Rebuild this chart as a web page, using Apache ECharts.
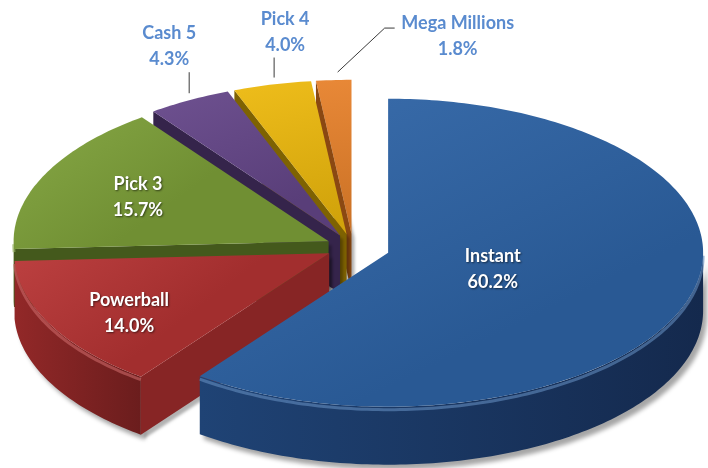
<!DOCTYPE html>
<html>
<head>
<meta charset="utf-8">
<script src="https://cdn.jsdelivr.net/npm/echarts@6/dist/echarts.min.js"></script>
<style>
  html, body { margin: 0; padding: 0; background: #fff; }
  #chart { width: 708px; height: 468px; }
</style>
</head>
<body>
<div id="chart"></div>
<script>
const games = ["Instant", "Powerball", "Pick 3", "Cash 5", "Pick 4", "Mega Millions"];
const shares = [60.2, 14.0, 15.7, 4.3, 4.0, 1.8];

const topColors = ["#2F65A8", "#B83434", "#7FA23A", "#654689", "#EDB90C", "#E6802A"];
const sideColors = ["#17305A", "#7E2222", "#3A4C17", "#2D1E40", "#6A5300", "#7A3E0E"];

// pie geometry (px)
const cx = 353, cy = 247, rx = 315, ry = 154, depth = 58;
const explode = [37, 27, 27, 27, 27, 27];

// label placement: inside ones by radius fraction, outside ones with leader line
const labelPlace = [
  { r: 0.35 },
  { r: 0.72, dy: 8 },
  { r: 0.67 },
  { line: [[0, -7], [0, -28]], text: [-20, -54] },
  { line: [[2, -7], [2, -27]], text: [13, -52] },
  { line: [[4, -8], [51, -52], [61, -52]], text: [124, -44] }
];

const total = shares.reduce((a, b) => a + b, 0);

function sliceGeom(i) {
  let cum = 0;
  for (let k = 0; k < i; k++) cum += shares[k];
  const hi = 90 - cum / total * 360;
  const lo = 90 - (cum + shares[i]) / total * 360;
  const mid = (hi + lo) / 2;
  const m = mid * Math.PI / 180;
  return {
    hi, lo, mid,
    ox: cx + explode[i] * Math.cos(m),
    oy: cy - explode[i] * (ry / rx) * Math.sin(m)
  };
}

function pt(g, deg, r, dz) {
  const a = deg * Math.PI / 180;
  return [g.ox + rx * r * Math.cos(a), g.oy - ry * r * Math.sin(a) + (dz || 0)];
}

function arc(g, a0, a1, dz) {
  const n = Math.max(2, Math.ceil(Math.abs(a1 - a0)));
  const pts = [];
  for (let k = 0; k <= n; k++) pts.push(pt(g, a0 + (a1 - a0) * k / n, 1, dz));
  return pts;
}

function mix(c1, c2, t) {
  const a = parseInt(c1.slice(1), 16), b = parseInt(c2.slice(1), 16);
  const ch = s => Math.round(((a >> s) & 255) * (1 - t) + ((b >> s) & 255) * t);
  return "rgb(" + ch(16) + "," + ch(8) + "," + ch(0) + ")";
}

function renderSides(params, api) {
  const i = params.dataIndex;
  const g = sliceGeom(i);
  const base = (shares.length - i) * 10;
  const children = [];
  const top = topColors[i], side = sideColors[i];

  // front half of the outer wall
  for (let k = -2; k <= 1; k++) {
    const a = Math.max(g.lo, -180 + 360 * k);
    const b = Math.min(g.hi, 360 * k);
    if (b - a <= 0.01) continue;
    const pts = arc(g, b, a, 0).concat(arc(g, a, b, depth));
    children.push({
      type: "polygon", z2: base,
      shape: { points: pts },
      style: {
        fill: {
          type: "linear", x: 0, y: 0, x2: 1, y2: 0,
          colorStops: [
            { offset: 0, color: mix(side, top, 0.35) },
            { offset: 1, color: mix(side, "#000000", 0.15) }
          ]
        },
        shadowColor: "rgba(0,0,0,0.35)", shadowBlur: 4, shadowOffsetX: 4, shadowOffsetY: 5
      }
    });
    children.push({
      type: "polyline", z2: base + 2,
      shape: { points: arc(g, b, a, 3) },
      style: { stroke: mix(top, "#ffffff", 0.25), lineWidth: 3, opacity: 0.6, fill: null }
    });
  }

  // radial walls facing the viewer
  const walls = [];
  if (Math.cos(g.hi * Math.PI / 180) < -0.01) walls.push(g.hi);
  if (Math.cos(g.lo * Math.PI / 180) > 0.01) walls.push(g.lo);
  walls.forEach(ang => {
    const c = [g.ox, g.oy], e = pt(g, ang, 1, 0);
    children.push({
      type: "polygon", z2: base + 1,
      shape: { points: [c, e, [e[0], e[1] + depth], [c[0], c[1] + depth]] },
      style: { fill: mix(side, top, 0.15), shadowColor: "rgba(0,0,0,0.3)", shadowBlur: 3, shadowOffsetX: 3, shadowOffsetY: 4 }
    });
  });

  return { type: "group", children };
}

function renderTops(params, api) {
  const i = params.dataIndex;
  const g = sliceGeom(i);
  const top = topColors[i];
  const children = [];

  children.push({
    type: "polygon", z2: 10,
    shape: { points: [[g.ox, g.oy]].concat(arc(g, g.hi, g.lo, 0)) },
    style: {
      fill: {
        type: "linear", x: 0, y: 0, x2: 0.3, y2: 1,
        colorStops: [
          { offset: 0, color: mix(top, "#ffffff", 0.06) },
          { offset: 1, color: mix(top, "#000000", 0.12) }
        ]
      }
    }
  });

  const lp = labelPlace[i];
  const txt = games[i] + "\n" + shares[i].toFixed(1) + "%";
  if (lp.r !== undefined) {
    const p = pt(g, g.mid, lp.r, lp.dy || 0);
    children.push({
      type: "text", z2: 100,
      style: {
        text: txt, x: p[0], y: p[1], align: "center", verticalAlign: "middle",
        font: "bold 18px Lato", lineHeight: 26, fill: "#ffffff",
        textShadowColor: "rgba(0,0,0,0.55)", textShadowBlur: 2, textShadowOffsetX: 1, textShadowOffsetY: 1
      }
    });
  } else {
    const rim = pt(g, g.mid, 1, 0);
    children.push({
      type: "polyline", z2: 90,
      shape: { points: lp.line.map(d => [rim[0] + d[0], rim[1] + d[1]]) },
      style: { stroke: "#3a3a3a", lineWidth: 1, fill: null }
    });
    children.push({
      type: "text", z2: 100,
      style: {
        text: txt, x: rim[0] + lp.text[0], y: rim[1] + lp.text[1],
        align: "center", verticalAlign: "middle",
        font: "bold 18px Lato", lineHeight: 26, fill: "#5A8BCF"
      }
    });
  }
  return { type: "group", children };
}

const chart = echarts.init(document.getElementById("chart"));
chart.setOption({
  animation: false,
  backgroundColor: "#ffffff",
  series: [
    { type: "custom", coordinateSystem: "none", z: 2, renderItem: renderSides, data: shares.map(v => [v]) },
    { type: "custom", coordinateSystem: "none", z: 3, renderItem: renderTops, data: shares.map(v => [v]) }
  ]
});
</script>
</body>
</html>
